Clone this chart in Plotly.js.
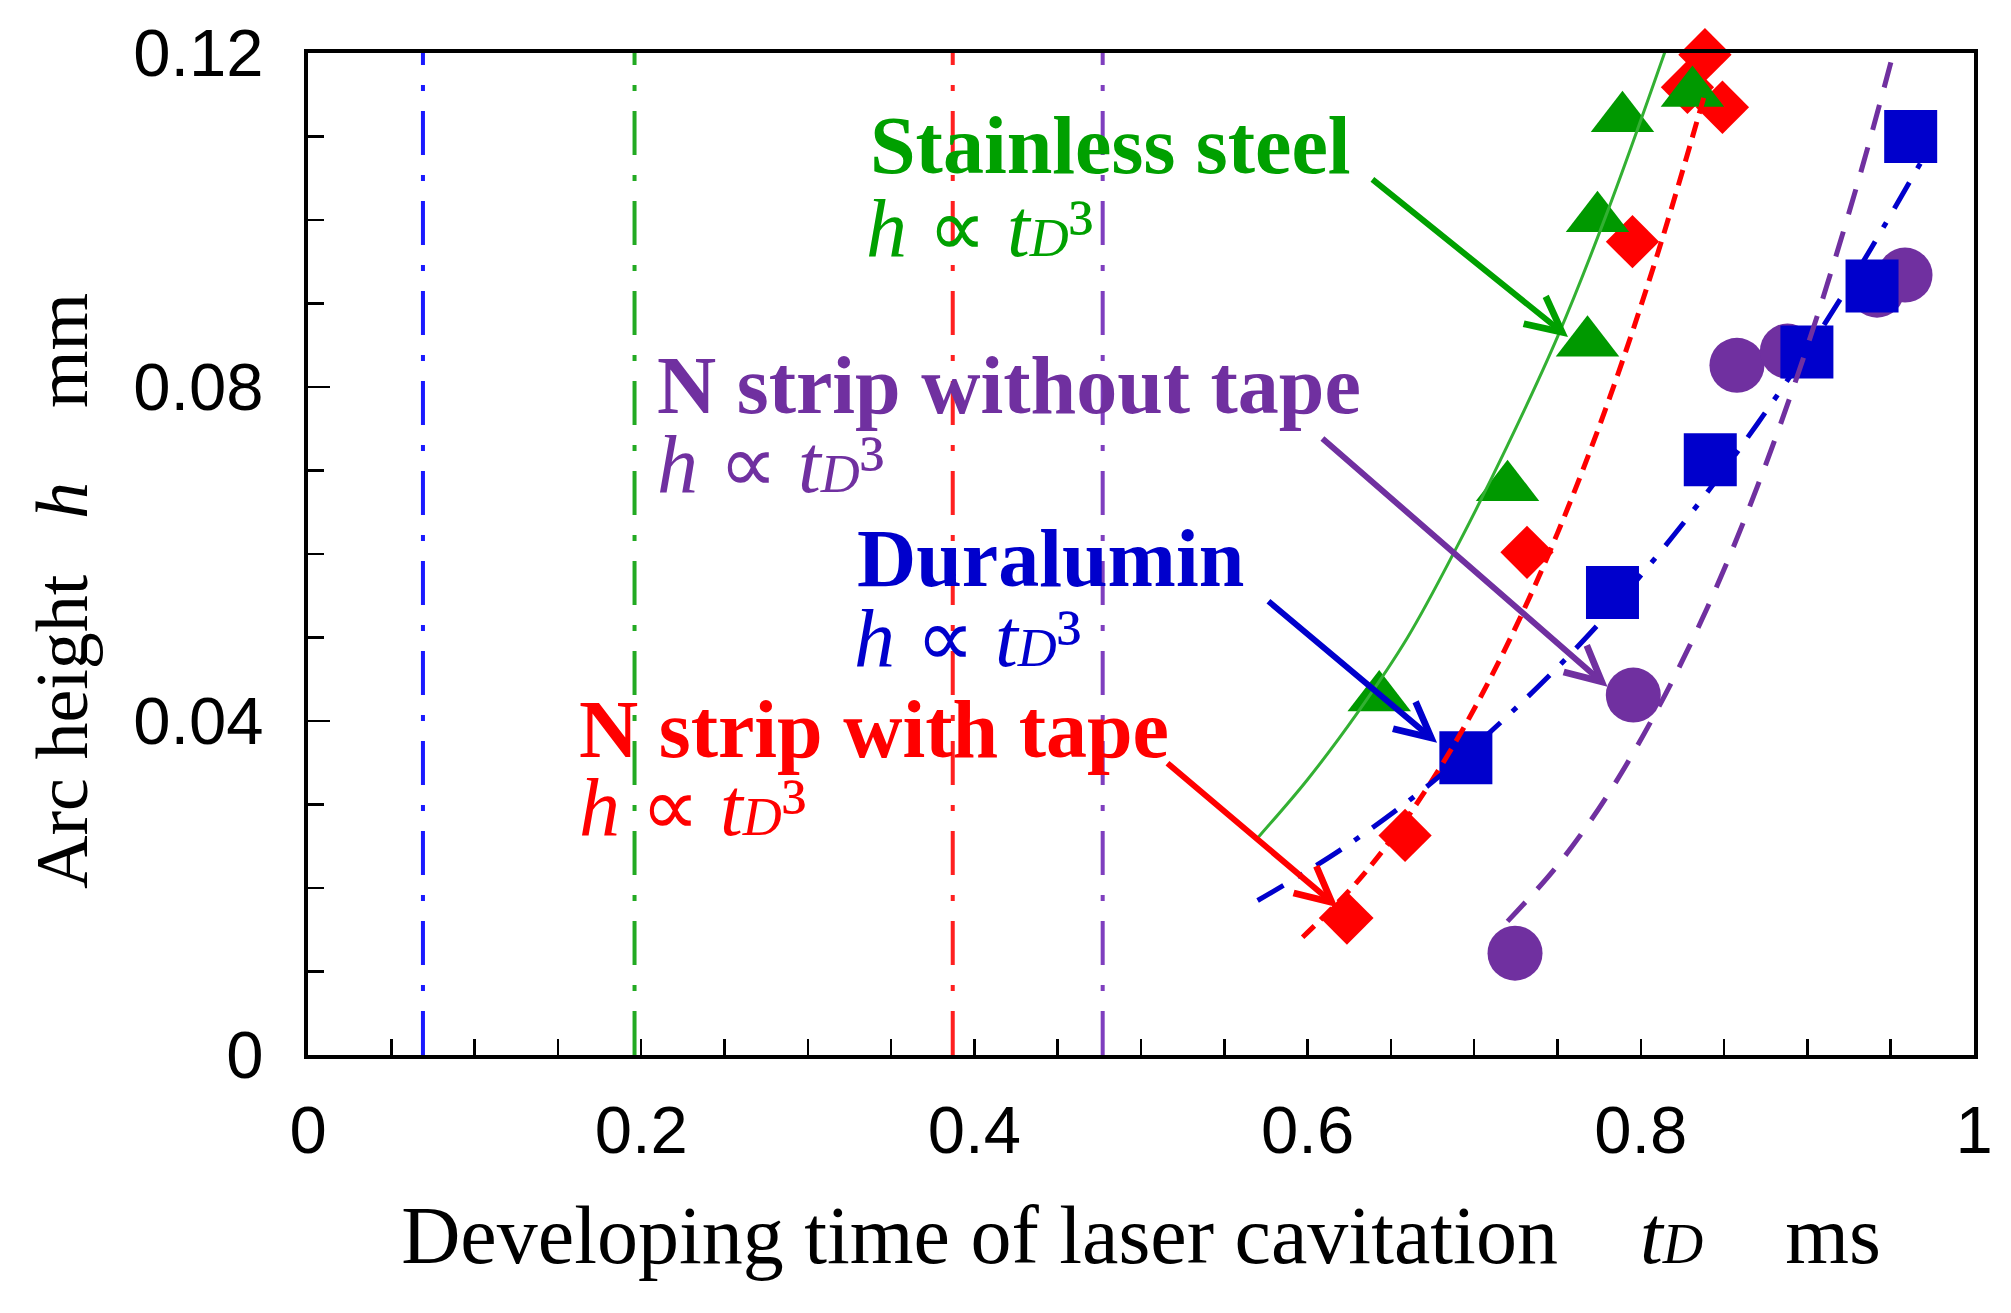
<!DOCTYPE html>
<html><head><meta charset="utf-8">
<script src="https://cdn.plot.ly/plotly-3.0.1.min.js"></script>
<style>html,body{margin:0;padding:0;background:#fff}</style>
</head><body>
<div id="chart" style="width:2011px;height:1313px"></div>
<script>
const steelX = [0.643, 0.720, 0.768, 0.774, 0.789, 0.831];
const steelY = [0.0428, 0.0680, 0.0853, 0.1002, 0.1122, 0.1152];
const tapeX = [0.6236, 0.6585, 0.7317, 0.795, 0.828, 0.8385, 0.849];
const tapeY = [0.0164, 0.0263, 0.0602, 0.0974, 0.1159, 0.1198, 0.1135];
const duralX = [0.695, 0.783, 0.8417, 0.8997, 0.9388, 0.962];
const duralY = [0.0356, 0.0554, 0.0713, 0.0842, 0.0921, 0.110];
const noTapeX = [0.7245, 0.7955, 0.8577, 0.888, 0.9418, 0.9586];
const noTapeY = [0.0122, 0.0431, 0.0826, 0.0843, 0.0916, 0.0934];

// fitted curves h ∝ tD^3
const steelFitX = [0.570, 0.600, 0.630, 0.660, 0.690, 0.720, 0.750, 0.780, 0.816];
const steelFitY = [0.026, 0.033, 0.041, 0.050, 0.061, 0.073, 0.086, 0.101, 0.121];
const tapeFitX = [0.597, 0.630, 0.660, 0.690, 0.720, 0.750, 0.780, 0.810, 0.838];
const tapeFitY = [0.0141, 0.0208, 0.0285, 0.0379, 0.0492, 0.0625, 0.0780, 0.0959, 0.1148];
const duralFitX = [0.570, 0.620, 0.670, 0.720, 0.770, 0.820, 0.870, 0.920, 0.975];
const duralFitY = [0.0185, 0.0246, 0.0319, 0.0406, 0.0506, 0.0623, 0.0756, 0.0906, 0.1093];
const noTapeFitX = [0.720, 0.750, 0.780, 0.810, 0.840, 0.870, 0.900, 0.930, 0.952];
const noTapeFitY = [0.0160, 0.0227, 0.0311, 0.0414, 0.0536, 0.0681, 0.0849, 0.1043, 0.1203];

// vertical reference lines (onset times)
const onsetX = [0.069, 0.196, 0.387, 0.477];
const onsetColors = ['#1a1aff', '#22aa22', '#ff2020', '#7f3fbf'];
const yTop = 0.12;

const xTickVals = [0, 0.2, 0.4, 0.6, 0.8, 1];
const xTickText = ['0', '0.2', '0.4', '0.6', '0.8', '1'];
const yTickVals = [0, 0.04, 0.08, 0.12];
const yTickText = ['0', '0.04', '0.08', '0.12'];

const labels = ['Stainless steel', 'N strip without tape', 'Duralumin', 'N strip with tape'];
const formula = '<i>h</i> \u221D <i>t</i><span style="font-size:54px"><i>D</i></span>\u00B3';

const GREEN = '#009900', RED = '#ff0000', BLUE = '#0000cc', PURPLE = '#7030a0';

const traces = [];
onsetX.forEach((v, i) => {
  traces.push({x: [v, v], y: [0, yTop], mode: 'lines', hoverinfo: 'skip', showlegend: false,
    line: {color: onsetColors[i], width: 4, dash: '44px,20px,6px,20px'}});
});
traces.push({x: noTapeX, y: noTapeY, mode: 'markers', name: labels[1], cliponaxis: false,
  marker: {symbol: 'circle', size: 55, color: PURPLE}});
traces.push({x: duralX, y: duralY, mode: 'markers', name: labels[2], cliponaxis: false,
  marker: {symbol: 'square', size: 53, color: BLUE}});
traces.push({x: tapeX, y: tapeY, mode: 'markers', name: labels[3], cliponaxis: false,
  marker: {symbol: 'diamond', size: 41, color: RED}});
traces.push({x: steelX, y: steelY, mode: 'markers', name: labels[0], cliponaxis: false,
  marker: {symbol: 'triangle-up', size: 55, color: GREEN}});
traces.push({x: steelFitX, y: steelFitY, mode: 'lines', cliponaxis: false, showlegend: false,
  line: {color: '#33b033', width: 3, shape: 'spline'}});
traces.push({x: tapeFitX, y: tapeFitY, mode: 'lines', cliponaxis: false, showlegend: false,
  line: {color: RED, width: 5, dash: '16px,9px', shape: 'spline'}});
traces.push({x: duralFitX, y: duralFitY, mode: 'lines', cliponaxis: false, showlegend: false,
  line: {color: BLUE, width: 5, dash: '30px,16px,6px,16px', shape: 'spline'}});
traces.push({x: noTapeFitX, y: noTapeFitY, mode: 'lines', cliponaxis: false, showlegend: false,
  line: {color: PURPLE, width: 5, dash: '26px,18px', shape: 'spline'}});

const serif = 'Liberation Serif, Times New Roman, serif';
function label(text, x, y, color) {
  return {text: text, x: x, y: y, xref: 'x', yref: 'y', xanchor: 'left', yanchor: 'middle',
    showarrow: false, font: {family: serif, size: 82, color: color}};
}
function arrow(tx, ty, fx, fy, color) {
  return {text: '', x: tx, y: ty, ax: fx, ay: fy, xref: 'x', yref: 'y', axref: 'x', ayref: 'y',
    showarrow: true, arrowhead: 5, arrowsize: 1.15, arrowwidth: 6, arrowcolor: color, standoff: 0, startstandoff: 0};
}
const nb = '\u00A0';
const annotations = [
  label('<b>' + labels[0] + '</b>', 0.336, 0.1089, '#00a000'),
  label(formula, 0.334, 0.0990, '#00a000'),
  label('<b>' + labels[1] + '</b>', 0.2083, 0.0802, PURPLE),
  label(formula, 0.208, 0.0707, PURPLE),
  label('<b>' + labels[2] + '</b>', 0.3285, 0.0595, BLUE),
  label(formula, 0.3265, 0.0499, BLUE),
  label('<b>' + labels[3] + '</b>', 0.1617, 0.0390, RED),
  label(formula, 0.1615, 0.0296, RED),
  arrow(0.7563, 0.086, 0.638, 0.1050, '#00a000'),
  arrow(0.780, 0.0441, 0.608, 0.0740, PURPLE),
  arrow(0.6777, 0.0374, 0.5756, 0.0545, BLUE),
  arrow(0.618, 0.0177, 0.515, 0.0351, RED)
];

const tickFont = {family: 'Liberation Sans, Arial, sans-serif', size: 67, color: '#000'};
const layout = {
  width: 2011, height: 1313,
  margin: {l: 308, r: 37, t: 53, b: 258, pad: 0},
  paper_bgcolor: '#fff', plot_bgcolor: '#fff',
  showlegend: false,
  xaxis: {
    range: [0, 1], tickvals: xTickVals, ticktext: xTickText, tickfont: tickFont,
    ticks: 'inside', ticklen: 16, tickwidth: 2.5, tickcolor: '#000',
    minor: {dtick: 0.05, tick0: 0, ticks: 'inside', ticklen: 16, tickwidth: 2.5, tickcolor: '#000'},
    showline: true, linecolor: '#000', linewidth: 4, mirror: true,
    showgrid: false, zeroline: false, ticklabelstandoff: 14,
    title: {text: 'Developing time of laser cavitation' + nb.repeat(4) + '<i>t</i><span style="font-size:56px"><i>D</i></span>' + nb.repeat(4) + 'ms',
      font: {family: serif, size: 82, color: '#000'}, standoff: 40}
  },
  yaxis: {
    range: [0, 0.12], tickvals: yTickVals, ticktext: yTickText, tickfont: tickFont,
    ticks: 'inside', ticklen: 22, tickwidth: 2.5, tickcolor: '#000',
    minor: {dtick: 0.01, tick0: 0, ticks: 'inside', ticklen: 16, tickwidth: 2.5, tickcolor: '#000'},
    showline: true, linecolor: '#000', linewidth: 4, mirror: true,
    showgrid: false, zeroline: false, ticklabelstandoff: 27,
    title: {text: 'Arc height' + nb.repeat(3) + '<i>h</i>' + nb.repeat(4) + 'mm' + nb.repeat(4) + '\u200B',
      font: {family: serif, size: 74, color: '#000'}, standoff: 22}
  },
  annotations: annotations
};
Plotly.newPlot('chart', traces, layout, {displayModeBar: false, staticPlot: true});
</script>
</body></html>
